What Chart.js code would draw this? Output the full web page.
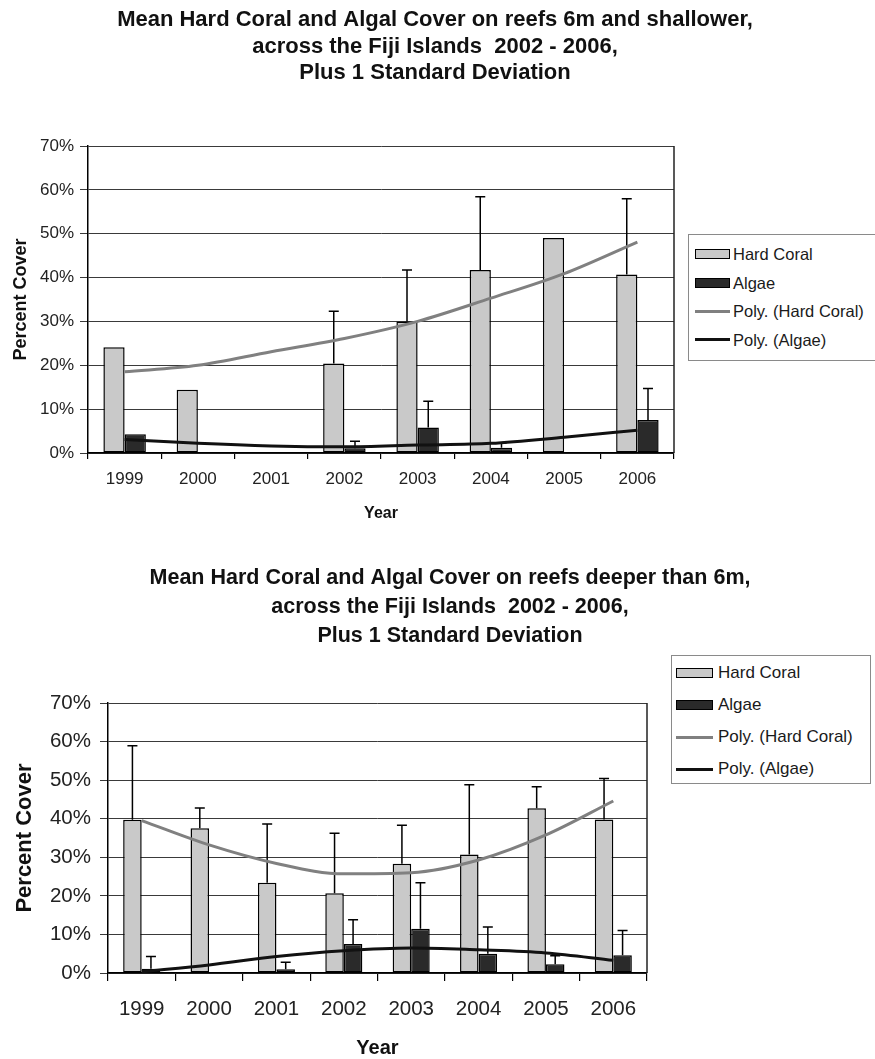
<!DOCTYPE html>
<html>
<head>
<meta charset="utf-8">
<script src="https://cdn.jsdelivr.net/npm/chart.js@4.4.1/dist/chart.umd.min.js"></script>
<style>
  html, body { margin: 0; padding: 0; background: #fff; }
  body { width: 875px; height: 1059px; overflow: hidden; position: relative; font-family: "Liberation Sans", Arial, sans-serif; }
  canvas { position: absolute; left: 0; }
  .legend { position: absolute; border: 1px solid #8a8a8a; background: #fff; box-sizing: border-box; }
  .legend .row { position: absolute; left: 0; right: 0; height: 0; }
  .legend .sw { position: absolute; box-sizing: border-box; }
  .legend .tx { position: absolute; white-space: nowrap; color: #1a1a1a; transform: translateY(-50%); }
</style>
</head>
<body>
<canvas id="shallowChart" width="870" height="540" style="top:0"></canvas>
<canvas id="deepChart" width="900" height="504" style="top:555px"></canvas>
<div id="shallowLegend" class="legend" style="left:688px; top:234px; width:188px; height:127px"></div>
<div id="deepLegend" class="legend" style="left:671px; top:655px; width:200px; height:129px"></div>
<script>
// categories and tick labels
const years = ['1999', '2000', '2001', '2002', '2003', '2004', '2005', '2006'];
const yTickLabels = ['0%', '10%', '20%', '30%', '40%', '50%', '60%', '70%'];
const seriesNames = ['Hard Coral', 'Algae', 'Poly. (Hard Coral)', 'Poly. (Algae)'];

// reefs 6m and shallower (percent)
const shallowCoral = [24.1, 14.4, null, 20.4, 30.0, 41.7, 49.0, 40.7];
const shallowCoralSd = [null, null, null, 11.9, 11.7, 16.7, null, 17.3];
const shallowAlgae = [4.3, null, null, 1.1, 5.8, 1.2, null, 7.5];
const shallowAlgaeSd = [null, null, null, 1.6, 6.0, 1.1, null, 7.2];
const shallowCoralTrend = [18.5, 20.0, 23.1, 26.1, 30.0, 35.3, 40.9, 48.1];
const shallowAlgaeTrend = [3.1, 2.2, 1.6, 1.4, 1.8, 2.2, 3.6, 5.2];

// reefs deeper than 6m (percent)
const deepCoral = [39.7, 37.5, 23.4, 20.7, 28.3, 30.7, 42.7, 39.8];
const deepCoralSd = [19.2, 5.3, 15.2, 15.5, 10.0, 18.1, 5.6, 10.6];
const deepAlgae = [1.1, null, 1.0, 7.5, 11.5, 5.0, 2.3, 4.6];
const deepAlgaeSd = [3.2, null, 1.8, 6.3, 11.9, 6.9, 2.2, 6.4];
const deepCoralTrend = [39.5, 33.2, 28.4, 25.7, 26.0, 29.3, 35.8, 44.6];
const deepAlgaeTrend = [0.3, 2.1, 4.3, 5.8, 6.5, 6.0, 5.2, 3.3];

const coralFill = '#c9c9c9';
const algaeFill = '#2a2a2a';
const coralLine = '#808080';
const algaeLine = '#111111';

Chart.defaults.font.family = '"Liberation Sans", Arial, sans-serif';
Chart.defaults.color = '#1a1a1a';
Chart.defaults.animation = false;

// plus-one-SD whiskers on top of each bar
const errorBars = {
  id: 'errorBars',
  afterDatasetDraw(chart, args) {
    const ds = chart.data.datasets[args.index];
    if (!ds.errorBars) return;
    const y = chart.scales.y;
    const ctx = chart.ctx;
    ctx.save();
    ctx.strokeStyle = '#000';
    ctx.lineWidth = 1.5;
    args.meta.data.forEach((bar, i) => {
      const v = ds.data[i];
      const sd = ds.errorBars[i];
      if (v == null || sd == null) return;
      const top = y.getPixelForValue(v + sd);
      ctx.beginPath();
      ctx.moveTo(bar.x, bar.y);
      ctx.lineTo(bar.x, top);
      ctx.moveTo(bar.x - 5, top);
      ctx.lineTo(bar.x + 5, top);
      ctx.stroke();
    });
    ctx.restore();
  }
};

// right-hand edge of the plot box
const plotFrame = {
  id: 'plotFrame',
  beforeDatasetsDraw(chart) {
    const a = chart.chartArea;
    const ctx = chart.ctx;
    ctx.save();
    ctx.strokeStyle = '#222';
    ctx.lineWidth = 1.5;
    ctx.beginPath();
    ctx.moveTo(a.right, a.top);
    ctx.lineTo(a.right, a.bottom);
    ctx.stroke();
    ctx.restore();
  }
};

function buildChart(id, s) {
  return new Chart(document.getElementById(id), {
    type: 'bar',
    data: {
      labels: years,
      datasets: [
        { label: seriesNames[0], data: s.coral, errorBars: s.coralSd, backgroundColor: coralFill,
          borderColor: '#000', borderWidth: 1.5, borderSkipped: false, order: 1 },
        { label: seriesNames[1], data: s.algae, errorBars: s.algaeSd, backgroundColor: algaeFill,
          borderColor: '#000', borderWidth: 1.5, borderSkipped: false, order: 1 },
        { type: 'line', label: seriesNames[2], data: s.coralTrend, borderColor: coralLine, borderWidth: 3,
          pointRadius: 0, cubicInterpolationMode: 'monotone', fill: false, order: 0 },
        { type: 'line', label: seriesNames[3], data: s.algaeTrend, borderColor: algaeLine, borderWidth: 3,
          pointRadius: 0, cubicInterpolationMode: 'monotone', fill: false, order: 0 }
      ]
    },
    options: {
      responsive: false,
      layout: { padding: 0 },
      datasets: { bar: { barPercentage: 1, categoryPercentage: s.catPct } },
      plugins: {
        legend: { display: false },
        tooltip: { enabled: false },
        title: {
          display: true,
          text: s.title,
          font: { size: s.titleSize, weight: 'bold', lineHeight: s.titleLine + 'px' },
          color: '#111',
          padding: s.titlePad
        }
      },
      scales: {
        x: {
          offset: true,
          afterFit(sc) { sc.height = s.xHeight; },
          grid: { display: true, drawOnChartArea: false, drawTicks: true, tickLength: s.xTick, color: '#000', lineWidth: 1.2 },
          border: { display: true, color: '#000', width: 1.5 },
          ticks: { font: { size: s.tickSize }, padding: s.xPad, maxRotation: 0, color: '#222' },
          title: { display: true, text: 'Year', font: { size: s.yearSize, weight: 'bold', lineHeight: 1.1 }, color: '#111',
                   padding: { top: 0, bottom: s.yearPad } }
        },
        y: {
          min: 0, max: 70,
          afterFit(sc) { sc.width = s.yWidth; },
          grid: { color: '#3a3a3a', lineWidth: 1, tickLength: 8 },
          border: { display: true, color: '#000', width: 1.5 },
          ticks: { stepSize: 10, font: { size: s.tickSize }, padding: s.yPad, color: '#222',
                   callback: (v, i) => yTickLabels[i] },
          title: { display: true, text: 'Percent Cover', font: { size: s.axisTitleSize, weight: 'bold' }, color: '#111',
                   padding: { top: s.axisTitlePad, bottom: 0 } }
        },
        spacer: {
          type: 'linear', position: 'right',
          afterFit(sc) { sc.width = s.rightSpace; },
          grid: { display: false }, border: { display: false }, ticks: { display: false }
        }
      }
    },
    plugins: [errorBars, plotFrame]
  });
}

function buildLegend(elId, chart, L) {
  const box = document.getElementById(elId);
  chart.data.datasets.forEach((ds, i) => {
    const row = document.createElement('div');
    row.className = 'row';
    row.style.top = (L.first + i * L.gap) + 'px';
    const sw = document.createElement('div');
    sw.className = 'sw';
    sw.style.left = L.swLeft + 'px';
    sw.style.width = L.swWidth + 'px';
    if (ds.type === 'line') {
      sw.style.height = '3px';
      sw.style.top = '-1.5px';
      sw.style.background = ds.borderColor;
    } else {
      sw.style.height = '10px';
      sw.style.top = '-5px';
      sw.style.background = ds.backgroundColor;
      sw.style.border = '1.5px solid #000';
    }
    const tx = document.createElement('div');
    tx.className = 'tx';
    tx.style.left = L.txLeft + 'px';
    tx.style.fontSize = L.font + 'px';
    tx.textContent = ds.label;
    row.appendChild(sw);
    row.appendChild(tx);
    box.appendChild(row);
  });
}

const shallow = buildChart('shallowChart', {
  title: ['Mean Hard Coral and Algal Cover on reefs 6m and shallower,',
          'across the Fiji Islands  2002 - 2006,',
          'Plus 1 Standard Deviation'],
  titleSize: 22, titleLine: 26.5, titlePad: { top: 6.75, bottom: 59.75 },
  coral: shallowCoral, coralSd: shallowCoralSd, algae: shallowAlgae, algaeSd: shallowAlgaeSd,
  coralTrend: shallowCoralTrend, algaeTrend: shallowAlgaeTrend,
  catPct: 0.58, xHeight: 87, xTick: 6, xPad: 10, tickSize: 17, yPad: 6, yWidth: 88,
  yearSize: 16, yearPad: 18, axisTitleSize: 18, axisTitlePad: 10, rightSpace: 196
});

const deep = buildChart('deepChart', {
  title: ['Mean Hard Coral and Algal Cover on reefs deeper than 6m,',
          'across the Fiji Islands  2002 - 2006,',
          'Plus 1 Standard Deviation'],
  titleSize: 21.5, titleLine: 29, titlePad: { top: 8.5, bottom: 52.5 },
  coral: deepCoral, coralSd: deepCoralSd, algae: deepAlgae, algaeSd: deepAlgaeSd,
  coralTrend: deepCoralTrend, algaeTrend: deepAlgaeTrend,
  catPct: 0.55, xHeight: 86, xTick: 8, xPad: 16, tickSize: 20.5, yPad: 9, yWidth: 108,
  yearSize: 20, yearPad: 0, axisTitleSize: 22, axisTitlePad: 12, rightSpace: 253
});

buildLegend('shallowLegend', shallow, { first: 19, gap: 28.5, swLeft: 6, swWidth: 35, txLeft: 44, font: 16.5 });
buildLegend('deepLegend', deep, { first: 17, gap: 32, swLeft: 4, swWidth: 37, txLeft: 46, font: 17 });
</script>
</body>
</html>
